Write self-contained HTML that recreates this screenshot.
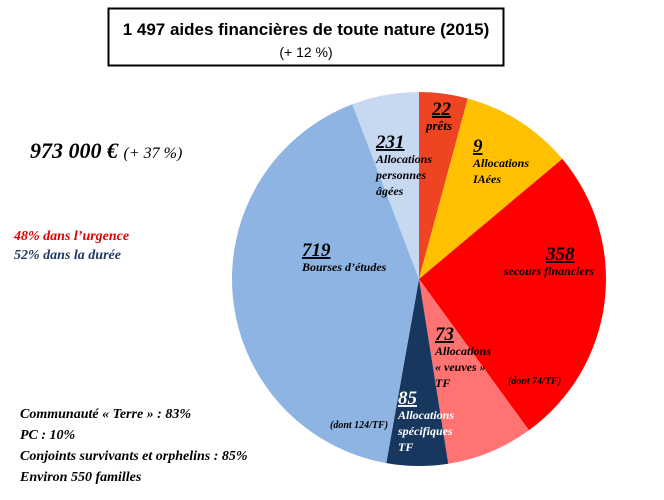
<!DOCTYPE html>
<html><head><meta charset="utf-8"><style>
html,body{margin:0;padding:0;background:#fff;}
svg{display:block;}
.t{font-family:"Liberation Serif",serif;font-style:italic;font-weight:bold;}
</style></head><body>
<svg id="c" width="664" height="500" viewBox="0 0 664 500" xmlns="http://www.w3.org/2000/svg">
<rect x="108.5" y="8.5" width="395" height="57" fill="#fff" stroke="#000" stroke-width="2"/>
<text x="306" y="35" text-anchor="middle" font-family="Liberation Sans,sans-serif" font-weight="bold" font-size="17">1 497 aides financières de toute nature (2015)</text>
<text x="306" y="57" text-anchor="middle" font-family="Liberation Sans,sans-serif" font-size="14">(+ 12 %)</text>
<g id="slices"></g>
<g id="labels"></g>
<text class="t" x="30" y="158" font-size="22">973 000 € <tspan font-weight="normal" font-size="16">(+ 37 %)</tspan></text>
<text class="t" x="14" y="240" font-size="14" fill="#e00000">48% dans l’urgence</text>
<text class="t" x="14" y="259" font-size="14" fill="#1f3864">52% dans la durée</text>
<text class="t" x="20" y="418" font-size="14">Communauté «  Terre » : 83%</text>
<text class="t" x="20" y="439" font-size="14">PC : 10%</text>
<text class="t" x="20" y="460" font-size="14">Conjoints survivants et orphelins : 85%</text>
<text class="t" x="20" y="481" font-size="14">Environ 550 familles</text>
</svg>
<script>
const categories = ["prêts","Allocations IAées","secours financiers","Allocations veuves TF","Allocations spécifiques TF","Bourses d’études","Allocations personnes âgées"];
const counts = [22, 9, 358, 73, 85, 719, 231];
const shares = [4.2, 9.7, 26.1, 7.5, 5.3, 41.4, 5.8];
const colors = ["#ee4422","#ffc000","#ff0000","#ff7373","#17375e","#8db4e2","#c6d9f1"];
const cx=419, cy=279, r=187;
const NS="http://www.w3.org/2000/svg";
const total = shares.reduce((a,b)=>a+b,0);
function pt(a,rr){return [cx+rr*Math.sin(a), cy-rr*Math.cos(a)];}
const g=document.getElementById('slices');
let acc=0;
shares.forEach((s,i)=>{
  const a0=acc/total*2*Math.PI; acc+=s; const a1=acc/total*2*Math.PI;
  const p0=pt(a0,r), p1=pt(a1,r);
  const p=document.createElementNS(NS,'path');
  p.setAttribute('d',`M${cx},${cy} L${p0[0]},${p0[1]} A${r},${r} 0 ${a1-a0>Math.PI?1:0} 1 ${p1[0]},${p1[1]} Z`);
  p.setAttribute('fill',colors[i]);
  
  
  g.appendChild(p);
});
const L=document.getElementById('labels');
const layout=[
 {x:432,y:115,lines:["prêts"],fill:"#000",fs:13},
 {x:473,y:152,lines:["Allocations"," IAées"],fill:"#000",fs:12},
 {x:508,y:260,lines:["secours financiers"],fill:"#000",fs:12},
 {x:435,y:340,lines:["Allocations","«  veuves »","TF"],fill:"#000",fs:12},
 {x:398,y:404,lines:["Allocations","spécifiques","  TF"],fill:"#fff",fs:12},
 {x:302,y:256,lines:["Bourses d’études"],fill:"#000",fs:12},
 {x:376,y:148,lines:["Allocations","personnes","âgées"],fill:"#000",fs:12}
];
const anchors=["start","start","middle","start","start","start","start"];
layout.forEach((o,i)=>{
  const n=document.createElementNS(NS,'text');
  n.setAttribute('class','t');
  n.setAttribute('x', i===2? o.x+38 : o.x);
  n.setAttribute('y',o.y);
  n.setAttribute('font-size',19);
  n.setAttribute('fill',o.fill);
  n.setAttribute('text-decoration','underline');
  n.textContent=counts[i];
  
  
  L.appendChild(n);
  o.lines.forEach((ln,j)=>{
    const t=document.createElementNS(NS,'text');
    t.setAttribute('class','t');
    t.setAttribute('x', i===2? o.x+41 : (i===0? o.x-6 : o.x));
    t.setAttribute('y',o.y+15+j*16);
    t.setAttribute('font-size',o.fs);
    t.setAttribute('fill',o.fill);
    t.setAttribute('text-anchor',anchors[i]);
    t.textContent=ln;
    
    
    L.appendChild(t);
  });
});
const e1=document.createElementNS(NS,'text');
e1.setAttribute('class','t');e1.setAttribute('x',508);e1.setAttribute('y',384);e1.setAttribute('font-size',10);
e1.textContent="(dont  74/TF)";


L.appendChild(e1);
const e2=document.createElementNS(NS,'text');
e2.setAttribute('class','t');e2.setAttribute('x',330);e2.setAttribute('y',428);e2.setAttribute('font-size',10);
e2.textContent="(dont  124/TF)";


L.appendChild(e2);
</script>
</body></html>
